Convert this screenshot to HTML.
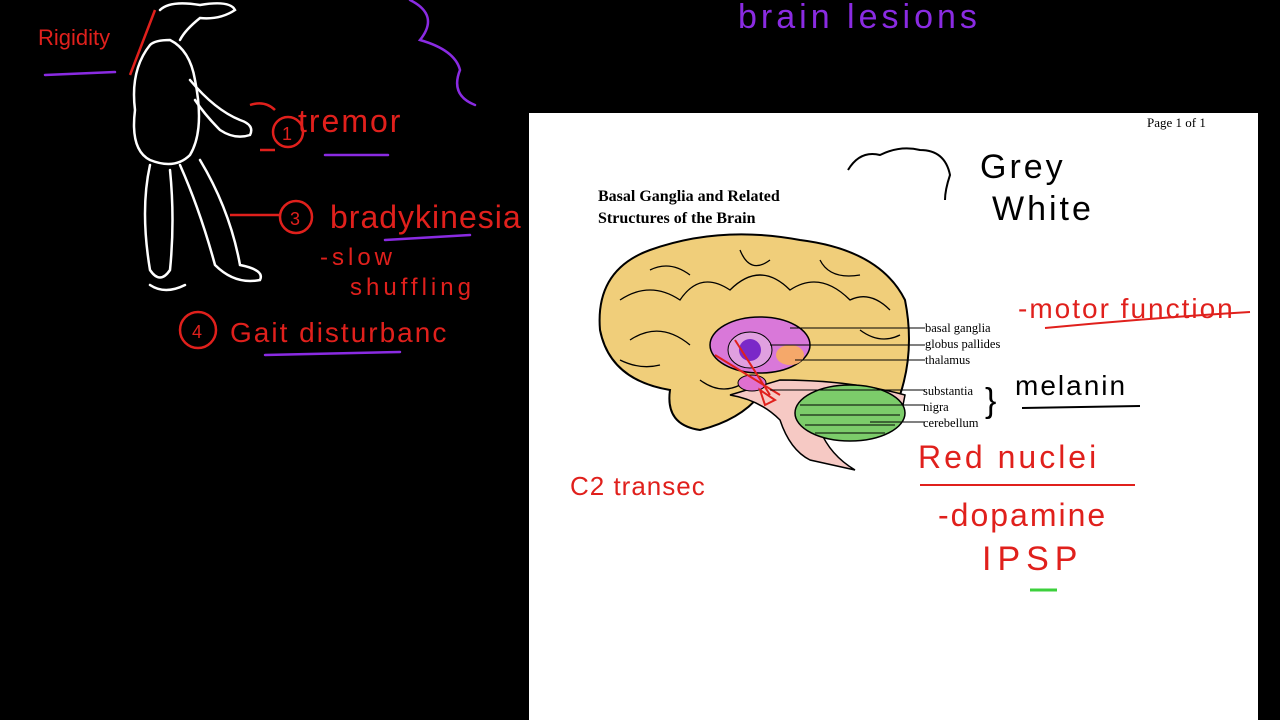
<!DOCTYPE html>
<html><head><meta charset="utf-8"><style>
html,body{margin:0;padding:0;background:#000;width:1280px;height:720px;overflow:hidden}
svg{display:block}
.h{font-family:"Liberation Sans",sans-serif;}
</style></head><body>
<svg width="1280" height="720" viewBox="0 0 1280 720" xmlns="http://www.w3.org/2000/svg">
<rect width="1280" height="720" fill="#000"/>
<g fill="none" stroke="#fff" stroke-width="2.5" stroke-linecap="round">
<path d="M160 10 Q170 0 200 5 Q230 0 235 10 Q220 20 200 18 Q185 30 180 40"/>
<path d="M150 45 Q130 70 135 110 Q130 150 150 160 Q175 170 190 155 Q205 130 195 80 Q190 50 170 40 Q155 40 150 45"/>
<path d="M190 80 Q215 110 240 120 Q255 125 250 135 Q235 140 220 130 Q205 115 195 100"/>
<path d="M150 165 Q140 210 150 270 Q160 285 170 270 Q175 220 170 170"/>
<path d="M180 165 Q200 210 215 265 Q235 285 260 280 Q265 270 240 265 Q230 210 200 160"/>
<path d="M150 285 Q165 295 185 285"/>
</g>
<g fill="none" stroke="#8a2be2" stroke-width="2.5" stroke-linecap="round">
<path d="M410 0 Q440 15 420 40 Q455 50 460 70 Q450 95 475 105"/>
<path d="M45 75 L115 72"/>
<path d="M325 155 L388 155"/>
<path d="M385 240 L470 235"/>
<path d="M265 355 L400 352"/>
</g>
<text x="738" y="28" class="h" font-size="34" fill="#8a2be2" letter-spacing="4">brain lesions</text>
<g fill="#e0201c" class="h">
<text x="38" y="45" font-size="22">Rigidity</text>
<text x="298" y="132" font-size="32" letter-spacing="2">tremor</text>
<text x="330" y="228" font-size="32" letter-spacing="1">bradykinesia</text>
<text x="320" y="265" font-size="24" letter-spacing="4">-slow</text>
<text x="350" y="295" font-size="24" letter-spacing="4">shuffling</text>
<text x="230" y="342" font-size="28" letter-spacing="2">Gait disturbanc</text>
<text x="282" y="140" font-size="18">1</text>
<text x="290" y="225" font-size="18">3</text>
<text x="192" y="338" font-size="18">4</text>
</g>
<g fill="none" stroke="#e0201c" stroke-width="2.5">
<circle cx="288" cy="132" r="15"/><circle cx="296" cy="217" r="16"/><circle cx="198" cy="330" r="18"/>
<path d="M155 10 L130 75 M230 215 L280 215 M250 105 Q265 100 275 110 M260 150 L275 150"/>
</g>
<rect x="529" y="113" width="729" height="607" fill="#fff"/>
<text x="1147" y="127" font-family="Liberation Serif" font-size="13" fill="#000">Page 1 of 1</text>
<text x="598" y="201" font-family="Liberation Serif" font-size="16" font-weight="bold" fill="#000">Basal Ganglia and Related</text>
<text x="598" y="223" font-family="Liberation Serif" font-size="16" font-weight="bold" fill="#000">Structures of the Brain</text>
<path d="M848 170 Q860 150 880 155 Q900 145 920 150 Q945 150 950 175 Q945 190 945 200" fill="none" stroke="#000" stroke-width="2"/>
<text x="980" y="178" class="h" font-size="34" fill="#000" letter-spacing="3">Grey</text>
<text x="992" y="220" class="h" font-size="34" fill="#000" letter-spacing="3">White</text>
<path d="M600 330 Q595 270 650 250 Q720 225 800 240 Q880 250 905 300 Q915 350 900 395 Q870 400 830 395 Q780 395 760 395 Q740 420 700 430 Q665 425 670 390 Q610 380 600 330Z" fill="#f0ce7a" stroke="#000" stroke-width="2"/>
<g fill="none" stroke="#000" stroke-width="1.3">
<path d="M620 300 Q650 280 680 300 Q700 270 730 290 Q760 260 790 290 Q820 270 850 300 Q870 290 890 310"/>
<path d="M630 340 Q660 320 690 345 M650 270 Q670 260 690 275 M740 250 Q750 275 770 260 M820 260 Q830 280 860 275 M860 330 Q880 345 900 335 M700 380 Q720 395 740 385 M620 360 Q640 370 660 365"/>
</g>
<path d="M730 395 Q760 400 780 420 Q790 450 810 460 L855 470 Q830 455 820 430 Q870 440 900 420 L905 395 Q850 380 780 380 Z" fill="#f6c9c4" stroke="#000" stroke-width="1.5"/>
<ellipse cx="850" cy="413" rx="55" ry="28" fill="#7ccc6a" stroke="#000" stroke-width="1.5"/>
<path d="M800 405 L900 405 M800 415 L900 415 M805 425 L895 425 M815 433 L885 433" stroke="#000" stroke-width="1"/>
<ellipse cx="760" cy="345" rx="50" ry="28" fill="#d978d9" stroke="#000" stroke-width="1.5"/>
<ellipse cx="750" cy="350" rx="22" ry="18" fill="#e0a0e0" stroke="#000"/>
<circle cx="750" cy="350" r="11" fill="#7a28c8"/>
<ellipse cx="790" cy="355" rx="14" ry="10" fill="#f5a86a"/>
<ellipse cx="752" cy="383" rx="14" ry="8" fill="#e070d0" stroke="#000"/>
<g fill="none" stroke="#e0201c" stroke-width="2"><path d="M715 355 L780 395 M735 340 L770 395 M760 390 L775 400 L765 405 Z"/></g>
<g stroke="#000" stroke-width="1"><path d="M790 328 L925 328 M770 345 L925 345 M795 360 L925 360 M770 390 L925 390 M800 405 L925 405 M870 422 L925 422"/></g>
<g font-family="Liberation Serif" font-size="12.5" fill="#000">
<text x="925" y="332">basal ganglia</text><text x="925" y="348">globus pallides</text><text x="925" y="364">thalamus</text>
<text x="923" y="395">substantia</text><text x="923" y="411">nigra</text><text x="923" y="427">cerebellum</text>
</g>
<text x="985" y="412" class="h" font-size="34" fill="#000">}</text>
<text x="1015" y="395" class="h" font-size="28" fill="#000" letter-spacing="2">melanin</text>
<path d="M1022 408 L1140 406" stroke="#000" stroke-width="2"/>
<g fill="#e0201c" class="h">
<text x="1018" y="318" font-size="28" letter-spacing="2">-motor function</text>
<text x="918" y="468" font-size="32" letter-spacing="3">Red nuclei</text>
<text x="938" y="526" font-size="32" letter-spacing="2">-dopamine</text>
<text x="982" y="570" font-size="34" letter-spacing="6">IPSP</text>
<text x="570" y="495" font-size="26" letter-spacing="1">C2 transec</text>
</g>
<path d="M1045 328 Q1150 318 1250 312" stroke="#e0201c" stroke-width="2" fill="none"/>
<path d="M920 485 L1135 485" stroke="#e0201c" stroke-width="2"/>
<path d="M1030 590 L1057 590" stroke="#3cd03c" stroke-width="3"/>
</svg>
</body></html>
